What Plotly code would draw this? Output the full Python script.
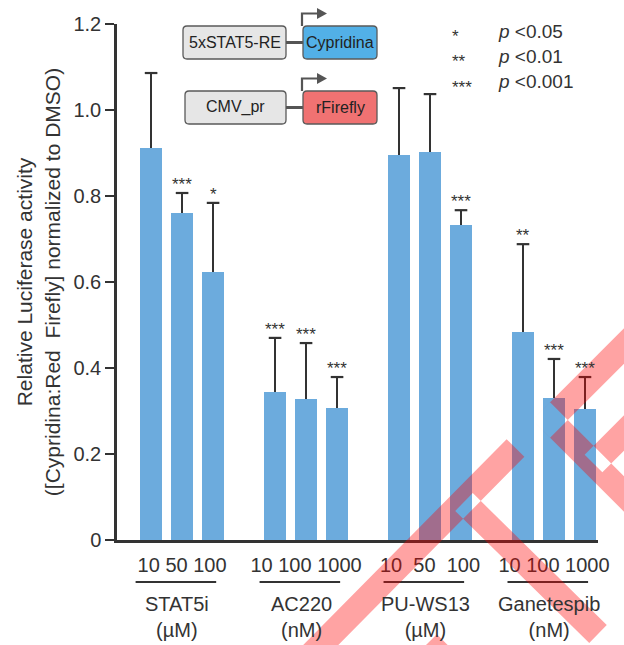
import plotly.graph_objects as go

# ---------------- data ----------------
groups = ["STAT5i", "AC220", "PU-WS13", "Ganetespib"]
units = ["(µM)", "(nM)", "(µM)", "(nM)"]
dose_labels = ["10 50 100", "10 100 1000", "10\u00a0\u00a050\u00a0\u00a0100", "10 100 1000"]
values = [
    [0.912, 0.760, 0.623],
    [0.344, 0.328, 0.307],
    [0.895, 0.902, 0.733],
    [0.484, 0.330, 0.305],
]
err_up = [
    [0.174, 0.047, 0.161],
    [0.126, 0.130, 0.072],
    [0.156, 0.135, 0.034],
    [0.204, 0.091, 0.074],
]
signif = [
    ["", "***", "*"],
    ["***", "***", "***"],
    ["", "", "***"],
    ["**", "***", "***"],
]
y_ticks = [0, 0.2, 0.4, 0.6, 0.8, 1.0, 1.2]
y_tick_labels = ["0", "0.2", "0.4", "0.6", "0.8", "1.0", "1.2"]
legend_stars = ["*", "**", "***"]
legend_p = ["0.05", "0.01", "0.001"]
y_title = "Relative Luciferase activity<br>([Cypridina:Red\u00a0 Firefly] normalized to DMSO)"

# ---------------- layout constants ----------------
W, H = 624, 645
L, R, T, B = 117, 598, 24, 540
FONT = "Liberation Sans, Arial, Helvetica, sans-serif"
DARK = "#333333"
SLOT = 4  # slots per group (3 bars + gap)


def P(px, py):
    return ((px - L) / (R - L), (B - py) / (B - T))


xs, ys, es, texts = [], [], [], []
for gi in range(len(groups)):
    for j in range(len(values[gi])):
        xs.append(gi * SLOT + j)
        ys.append(values[gi][j])
        es.append(err_up[gi][j])
        texts.append(signif[gi][j])

fig = go.Figure()
fig.add_trace(go.Bar(
    x=xs, y=ys, width=0.71,
    marker=dict(color="#6cabdd", line=dict(width=0)),
    error_y=dict(type="data", symmetric=False, array=es, arrayminus=[0] * len(es),
                 color=DARK, thickness=2, width=0),
    hoverinfo="skip", showlegend=False,
))
# error-bar caps (top only)
fig.add_trace(go.Scatter(
    x=xs, y=[y + e for y, e in zip(ys, es)], mode="markers",
    marker=dict(symbol="line-ew", size=9, line=dict(color=DARK, width=2.2)),
    hoverinfo="skip", showlegend=False, cliponaxis=False,
))

annotations = []
# significance stars
for x, y, e, t in zip(xs, ys, es, texts):
    if t:
        annotations.append(dict(x=x, y=y + e, xref="x", yref="y", text=t, showarrow=False,
                                yanchor="bottom", yshift=-3,
                                font=dict(size=17, color=DARK, family=FONT)))

shapes = []
# group names, units, underlines
for gi, (g, u) in enumerate(zip(groups, units)):
    c = gi * SLOT + 1
    annotations.append(dict(x=c, y=P(0, 617)[1], xref="x", yref="paper",
                            text=f"{g}<br>{u}", showarrow=False, xshift=-5,
                            yanchor="middle", font=dict(size=20, color=DARK, family=FONT)))
    shapes.append(dict(type="line", xref="x", yref="paper",
                       x0=c - 1.5, x1=c + 1.1, y0=P(0, 582)[1], y1=P(0, 582)[1],
                       line=dict(color=DARK, width=2)))

# significance legend
for k, (s, p) in enumerate(zip(legend_stars, legend_p)):
    yc = 31 + 25.5 * k
    annotations.append(dict(x=P(450, 0)[0], y=P(0, yc + 5)[1], xref="paper", yref="paper",
                            text=s, showarrow=False, xanchor="left", yanchor="middle",
                            font=dict(size=17, color=DARK, family=FONT)))
    annotations.append(dict(x=P(496, 0)[0], y=P(0, yc)[1], xref="paper", yref="paper",
                            text=f"<i>p</i> &lt;{p}", showarrow=False, xanchor="left",
                            yanchor="middle", font=dict(size=19, color=DARK, family=FONT)))


# construct diagram
def rrect(x0, y0, x1, y1, r=4):
    def pt(a, b):
        u, v = P(a, b)
        return f"{u:.5f},{v:.5f}"
    return (f"M{pt(x0 + r, y0)} L{pt(x1 - r, y0)} Q{pt(x1, y0)} {pt(x1, y0 + r)} "
            f"L{pt(x1, y1 - r)} Q{pt(x1, y1)} {pt(x1 - r, y1)} L{pt(x0 + r, y1)} "
            f"Q{pt(x0, y1)} {pt(x0, y1 - r)} L{pt(x0, y0 + r)} Q{pt(x0, y0)} {pt(x0 + r, y0)} Z")


def ppath(points, close=False):
    s = " ".join(("M" if i == 0 else "L") + "{:.5f},{:.5f}".format(*P(a, b))
                 for i, (a, b) in enumerate(points))
    return s + (" Z" if close else "")


boxes = [
    (183, 26, 286, 59, "#52b0e7", "5xSTAT5-RE"),
    (303, 26, 377, 59, "#52b0e7", "Cypridina"),
    (185, 91, 286, 124, "#e6e6e6", "CMV_pr"),
    (303, 91, 377, 124, "#f07272", "rFirefly"),
]
boxes[0] = (183, 26, 286, 59, "#e6e6e6", "5xSTAT5-RE")
for (yc, top) in [(42.5, 26), (107.5, 91)]:
    shapes.append(dict(type="path", xref="paper", yref="paper",
                       path=ppath([(286, yc), (303, yc)]), line=dict(color="#555555", width=3)))
    shapes.append(dict(type="path", xref="paper", yref="paper",
                       path=ppath([(302, top), (302, top - 12.5), (318, top - 12.5)]),
                       line=dict(color="#555555", width=2.2)))
    shapes.append(dict(type="path", xref="paper", yref="paper",
                       path=ppath([(317, top - 18), (327, top - 12.5), (317, top - 7)], close=True),
                       fillcolor="#555555", line=dict(width=0)))
for (x0, y0, x1, y1, col, lab) in boxes:
    shapes.append(dict(type="path", xref="paper", yref="paper", path=rrect(x0, y0, x1, y1),
                       fillcolor=col, line=dict(color="#5a5a5a", width=1.3)))
    cx, cy = P((x0 + x1) / 2, (y0 + y1) / 2)
    annotations.append(dict(x=cx, y=cy, xref="paper", yref="paper", text=lab, showarrow=False,
                            xanchor="center", yanchor="middle",
                            font=dict(size=16, color="#222222", family=FONT)))

# translucent red overlay stripes
stripes = [
    ((300, 666), (515.5, 448)),
    ((464, 502), (598, 634)),
    ((428, 643), (528, 743)),
    ((541.2, 428.8), (680, 290)),
    ((541.2, 411.2), (700, 570)),
    ((593.5, 463.5), (700, 357)),
]
sw = 25
sub = []
for (ax, ay), (bx, by) in stripes:
    dx, dy = bx - ax, by - ay
    n = (dx * dx + dy * dy) ** 0.5
    nx, ny = -dy / n * sw / 2, dx / n * sw / 2
    sub.append(ppath([(ax + nx, ay + ny), (bx + nx, by + ny), (bx - nx, by - ny), (ax - nx, ay - ny)], close=True))
shapes.append(dict(type="path", xref="paper", yref="paper", path=" ".join(sub),
                   fillcolor="rgba(255,0,0,0.36)", line=dict(width=0), layer="above"))

fig.update_layout(
    width=W, height=H,
    margin=dict(l=L, r=W - R, t=T, b=H - B, autoexpand=False),
    paper_bgcolor="white", plot_bgcolor="white",
    font=dict(family=FONT, color=DARK),
    bargap=0,
    annotations=annotations, shapes=shapes,
    xaxis=dict(range=[-1.1, 14.42], showgrid=False, zeroline=False,
               showline=True, linecolor=DARK, linewidth=2.5,
               tickvals=[gi * SLOT + 1 for gi in range(len(groups))], ticktext=dose_labels,
               ticks="outside", ticklen=5, tickcolor="rgba(0,0,0,0)",
               tickfont=dict(size=20, color=DARK, family=FONT), fixedrange=True),
    yaxis=dict(range=[0, 1.2], showgrid=False, zeroline=False,
               showline=True, linecolor=DARK, linewidth=2.5,
               tickvals=y_ticks, ticktext=y_tick_labels,
               ticks="outside", ticklen=9, tickwidth=2, tickcolor=DARK,
               tickfont=dict(size=20, color=DARK, family=FONT),
               title=dict(text=y_title, font=dict(size=21, color=DARK, family=FONT), standoff=8),
               fixedrange=True),
)

fig.write_html("out.html", config={"displayModeBar": False})
